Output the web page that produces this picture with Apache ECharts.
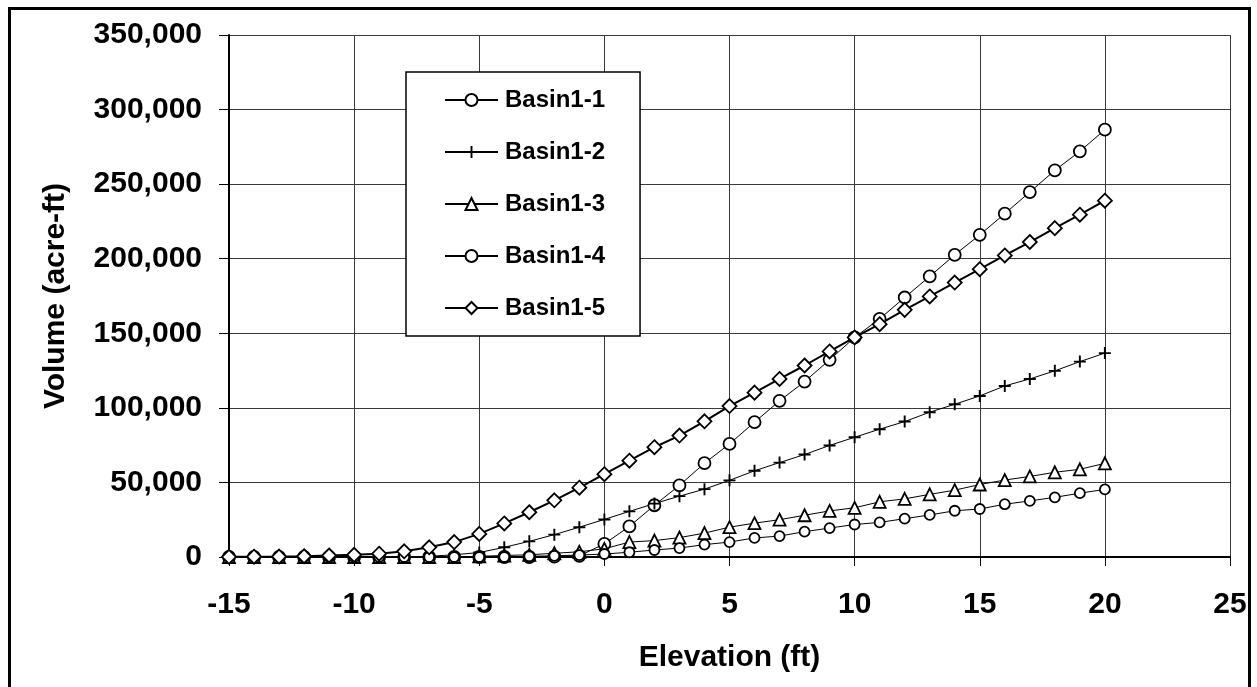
<!DOCTYPE html>
<html>
<head>
<meta charset="utf-8">
<script src="https://cdn.jsdelivr.net/npm/echarts@6/dist/echarts.min.js"></script>
<style>
  html, body { margin: 0; padding: 0; background: #fff; }
  #chart { width: 1257px; height: 687px; }
</style>
</head>
<body>
<div id="chart"></div>
<script>
// elevation (ft), -15 .. 20
const elevation = [-15, -14, -13, -12, -11, -10, -9, -8, -7, -6, -5, -4, -3, -2, -1,
  0, 1, 2, 3, 4, 5, 6, 7, 8, 9, 10, 11, 12, 13, 14, 15, 16, 17, 18, 19, 20]

// volume (acre-ft) per basin
const basin1_1 = [0, 0, 0, 0, 0, 0, 0, 0, 0, 0, 0, 0, 0, 200, 800,
  8800, 20500, 34700, 48000, 62900, 75800, 90400, 104700, 117600, 132200, 147200,
  159700, 174000, 188100, 202600, 216000, 230200, 244700, 259200, 272000, 286500]
const basin1_2 = [0, 0, 0, 0, 0, 0, 0, 0, 500, 1500, 3000, 6500, 10500, 15000, 20000,
  25200, 30600, 35800, 40800, 45500, 51400, 57800, 63300, 68700, 74800, 80300,
  85700, 90800, 97100, 102400, 108000, 114700, 119400, 124800, 131000, 136700]
const basin1_3 = [0, 0, 0, 0, 0, 0, 0, 0, 0, 0, 500, 1000, 1500, 2500, 3500,
  5500, 10000, 11000, 13000, 16000, 20000, 22700, 25000, 28000, 30900, 33000,
  37000, 39000, 42000, 44800, 48600, 51600, 54000, 56800, 58800, 62800]
const basin1_4 = [0, 0, 0, 0, 0, 0, 0, 0, 0, 0, 0, 0, 500, 800, 1300,
  2000, 3200, 4700, 6000, 8300, 10000, 12800, 14000, 17000, 19400, 21800,
  23200, 25700, 28200, 31000, 32200, 35400, 37600, 40000, 42800, 45300]
const basin1_5 = [100, 200, 300, 500, 1000, 1500, 2200, 3800, 6500, 10000, 15500, 22500, 30000, 38000, 46500,
  55500, 64600, 73600, 81400, 91000, 101200, 110200, 119400, 128400, 137800, 147200,
  156100, 165700, 174700, 184000, 193000, 202200, 211200, 220500, 229500, 238900]

const seriesNames = ['Basin1-1', 'Basin1-2', 'Basin1-3', 'Basin1-4', 'Basin1-5']

const font = "'Liberation Sans', Arial, sans-serif"
const plusPath = 'path://M4.2,0H5.8V10H4.2Z M0,4.2H10V5.8H0Z'

const pairs = vals => elevation.map((x, i) => [x, vals[i]])

const makeSeries = (name, vals, symbol, size, lineWidth, hollow) => ({
  name,
  type: 'line',
  data: pairs(vals),
  symbol,
  symbolSize: size,
  showAllSymbol: true,
  lineStyle: { color: '#000', width: lineWidth },
  itemStyle: {
    color: hollow ? '#fff' : '#000',
    borderColor: '#000',
    borderWidth: hollow ? 1.8 : 0
  },
  emphasis: { disabled: true },
  z: 3
})

const chart = echarts.init(document.getElementById('chart'), null, { renderer: 'canvas' })

chart.setOption({
  animation: false,
  textStyle: { fontFamily: font },
  graphic: [{
    type: 'rect',
    shape: { x: 9.5, y: 8.5, width: 1240, height: 700 },
    style: { fill: 'none', stroke: '#000', lineWidth: 3 },
    z: 0, silent: true
  }],
  grid: { left: 229, right: 27, top: 35, bottom: 130 },
  legend: {
    data: seriesNames,
    orient: 'vertical',
    left: 406,
    top: 72,
    padding: [15, 35, 15, 38],
    itemGap: 26,
    itemWidth: 53,
    itemHeight: 15,
    backgroundColor: '#fff',
    borderColor: '#000',
    borderWidth: 1.5,
    borderRadius: 0,
    textStyle: { fontFamily: font, fontSize: 24, fontWeight: 'bold', color: '#000', lineHeight: 26, padding: [0, 0, 0, 2] },
    z: 10
  },
  xAxis: {
    type: 'value',
    min: -15,
    max: 25,
    interval: 5,
    name: 'Elevation (ft)',
    nameLocation: 'middle',
    nameGap: 86,
    nameTextStyle: { fontFamily: font, fontSize: 30, fontWeight: 'bold', color: '#000' },
    axisLine: { onZero: false, lineStyle: { color: '#000', width: 2 } },
    axisTick: { show: true, length: 9, lineStyle: { color: '#000', width: 1 } },
    axisLabel: { fontFamily: font, fontSize: 30, fontWeight: 'bold', color: '#000', margin: 33 },
    splitLine: { show: true, lineStyle: { color: '#3a3a3a', width: 1 } }
  },
  yAxis: {
    type: 'value',
    min: 0,
    max: 350000,
    interval: 50000,
    name: 'Volume (acre-ft)',
    nameLocation: 'middle',
    nameGap: 158,
    nameTextStyle: { fontFamily: font, fontSize: 30, fontWeight: 'bold', color: '#000' },
    axisLine: { show: true, onZero: false, lineStyle: { color: '#000', width: 2 } },
    axisTick: { show: true, length: 10, lineStyle: { color: '#000', width: 1 } },
    axisLabel: {
      fontFamily: font, fontSize: 30, fontWeight: 'bold', color: '#000', margin: 27,
      formatter: v => v.toLocaleString('en-US')
    },
    splitLine: { show: true, lineStyle: { color: '#3a3a3a', width: 1 } }
  },
  series: [
    makeSeries('Basin1-1', basin1_1, 'circle', 12, 1, true),
    makeSeries('Basin1-2', basin1_2, plusPath, 12, 1, false),
    makeSeries('Basin1-3', basin1_3, 'triangle', 12, 1, true),
    makeSeries('Basin1-4', basin1_4, 'circle', 10, 1, true),
    makeSeries('Basin1-5', basin1_5, 'diamond', 14, 2, true)
  ]
})
</script>
</body>
</html>
